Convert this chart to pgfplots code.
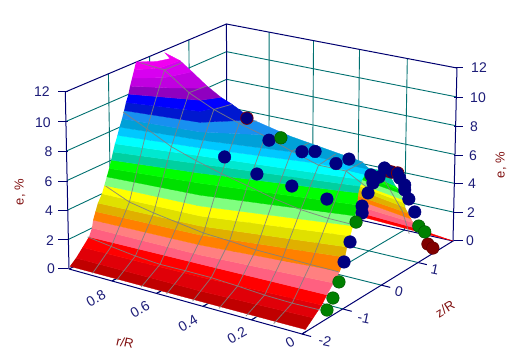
\documentclass[border=0pt]{standalone}
\usepackage{fontspec}
\setmainfont{Liberation Sans}
\usepackage{pgfplots}
\usepackage{pgfplotstable}
\pgfplotsset{compat=1.18}

% colour bands, one per 0.5 of e
\definecolor{b0}{HTML}{C00000}\definecolor{b1}{HTML}{E00008}\definecolor{b2}{HTML}{FF0000}
\definecolor{b3}{HTML}{FF6080}\definecolor{b4}{HTML}{FF8080}\definecolor{b5}{HTML}{FF8000}
\definecolor{b6}{HTML}{E0B000}\definecolor{b7}{HTML}{E0E000}\definecolor{b8}{HTML}{FFFF00}
\definecolor{b9}{HTML}{80FF80}\definecolor{b10}{HTML}{00E000}\definecolor{b11}{HTML}{00FF00}
\definecolor{b12}{HTML}{00D0A0}\definecolor{b13}{HTML}{00E8D0}\definecolor{b14}{HTML}{00FFFF}
\definecolor{b15}{HTML}{00C8FF}\definecolor{b16}{HTML}{00A0D8}\definecolor{b17}{HTML}{1890F0}
\definecolor{b18}{HTML}{0018D0}\definecolor{b19}{HTML}{0000FF}\definecolor{b20}{HTML}{9000C0}
\definecolor{b21}{HTML}{C000E0}\definecolor{b22}{HTML}{D800F0}\definecolor{b23}{HTML}{F000F0}
\definecolor{boxc}{HTML}{000070}
\definecolor{gridc}{HTML}{007070}
\definecolor{tickc}{HTML}{1C1C78}
\definecolor{titlec}{HTML}{801010}
\definecolor{mnavy}{HTML}{000080}
\definecolor{mgreen}{HTML}{008000}
\definecolor{mred}{HTML}{800000}

\tikzset{
  tk/.style={text=tickc,font=\fontsize{14}{14}\selectfont,inner sep=0pt},
  ttl/.style={text=titlec,font=\fontsize{13}{13}\selectfont,inner sep=0pt},
}

% measured mesh: e at each z (rows are r)
\pgfplotstableread{
r     e1   e2   e3   e4
1     1.54 4.41 8.94 11.8
.889  1.31 3.70 8.11 11.62
.778  1.10 3.36 7.25 10.38
.667  .98  3.10 6.67 9.57
.556  1.00 2.84 6.18 8.98
.444  1.00 2.74 5.77 8.48
.333  .91  2.59 5.32 7.86
.222  .79  2.56 5.00 7.32
.111  .75  2.53 4.85 7.33
0     .79  2.51 4.82 6.30
}\gridr
% same mesh: e at each r (rows are z)
\pgfplotstableread{
z      a     b     c    d    f    g    h    i
-2     .15   .15   .15  .15  .15  .15  .15  .15
-1.556 1.31  1.10  .98  1.00 1.00 .91  .79  .75
-1.111 3.70  3.36  3.10 2.84 2.74 2.59 2.56 2.53
-.667  8.11  7.25  6.67 6.18 5.77 5.32 5.00 4.85
-.222  11.62 10.38 9.57 8.98 8.48 7.86 7.32 7.33
.222   11.6  10.3  9.38 8.60 8.06 7.85 7.50 7.37
}\gridz

\newcommand{\bnd}[2]{\addplot[fill=#1,draw=#1,line width=.3pt,no marks] table {r z e\\ #2};}
\newcommand{\rl}[2]{\addplot[meshl] table[x expr={px(#1,\thisrow{z},\thisrow{#2})},y expr={py(#1,\thisrow{z},\thisrow{#2})}] {\gridz};}
\newcommand{\zl}[2]{\addplot[meshl] table[x expr={px(\thisrow{r},#1,\thisrow{#2})},y expr={py(\thisrow{r},#1,\thisrow{#2})}] {\gridr};}

\begin{document}
\begin{tikzpicture}
\useasboundingbox (0,0) rectangle (517pt,352pt);
\begin{axis}[
    at={(0,0)}, anchor=south west,
    scale only axis, width=517pt, height=352pt,
    xmin=0, xmax=517, ymin=0, ymax=352, y dir=reverse,
    hide axis, clip=false,
    % perspective camera of the original chart: r, z, e to image position
    declare function={
      TT(\b)=(\b+2)/4;
      WW(\a,\b)=1+0.10833*\a+0.10671*TT(\b);
      Xf(\a,\b)=(302-225.525*\a+199.34*TT(\b))/WW(\a,\b);
      Yf(\a,\b)=(334-35.86*\a-67.28*TT(\b))/WW(\a,\b);
      HH(\a,\b)=195-18*\a-22*TT(\b)+11*\a*TT(\b);
      px(\a,\b,\c)=Xf(\a,\b)+\c/12*(Xf(\a,\b)-255)*0.02;
      py(\a,\b,\c)=Yf(\a,\b)-\c/12*HH(\a,\b);
    },
    table/row sep=\\,
    table/x expr={px(\thisrow{r},\thisrow{z},\thisrow{e})},
    table/y expr={py(\thisrow{r},\thisrow{z},\thisrow{e})},
    gridl/.style={draw=gridc,line width=.9pt,no marks},
    boxl/.style={draw=boxc,line width=1pt,no marks},
    meshl/.style={draw=gray,line width=.8pt,opacity=.85,no marks},
    dots/.style={only marks,mark=*,mark size=6.3pt},
]
% walls and floor
\pgfplotsinvokeforeach{2,4,6,8,10}{
  \addplot[gridl] table {r z e\\ 1 -2 #1\\ 1 2 #1\\ 0 2 #1\\};
}
\pgfplotsinvokeforeach{-1,0,1}{
  \addplot[gridl] table {r z e\\ 1 #1 12\\ 1 #1 0\\ 0 #1 0\\};
}
\pgfplotsinvokeforeach{.2,.4,.6,.8}{
  \addplot[gridl] table {r z e\\ #1 2 12\\ #1 2 0\\ #1 -2 0\\};
}
\addplot[boxl] table {r z e\\ 1 -2 0\\ 0 -2 0\\ 0 2 0\\ 1 2 0\\ 1 -2 0\\};
\addplot[boxl] table {r z e\\ 1 -2 0\\ 1 -2 12\\ 1 2 12\\ 0 2 12\\ 0 2 0\\};
\addplot[boxl] table {r z e\\ 1 2 0\\ 1 2 12\\};
\pgfplotsinvokeforeach{.8,.6,.4,.2,0}{
  \addplot[boxl] table {r z e\\ #1 -2 0\\ #1 -1.9 0\\};
}
\pgfplotsinvokeforeach{-2,-1,0,1}{
  \addplot[boxl] table {r z e\\ 0 #1 0\\ -.035 #1 0\\};
}
\pgfplotsinvokeforeach{92,122,152,182,211,240,269}{
  \draw[draw=boxc,line width=1pt] (axis cs:58,#1)--(axis cs:68,#1);
}
\pgfplotsinvokeforeach{68,98,127,156,184,213,241}{
  \draw[draw=boxc,line width=1pt] (axis cs:454,#1)--(axis cs:463,#1);
}

% far slope, seen from below through the open end
\bnd{b2}{.34 1.50 1.5\\ .07 1.39 1.5\\ 0 2 0\\ .38 2 .25\\}
\bnd{b3}{.34 1.50 1.5\\ .07 1.39 1.5\\ .065 1.30 2\\ .32 1.46 2\\}
\bnd{b4}{.32 1.46 2\\ .065 1.30 2\\ .054 1.16 2.5\\ .32 1.42 2.5\\}
\bnd{b5}{.32 1.42 2.5\\ .054 1.16 2.5\\ .055 1.08 3\\ .32 1.32 3\\}
\bnd{b6}{.32 1.32 3\\ .055 1.08 3\\ .057 1.0 3.5\\ .30 1.28 3.5\\}
\bnd{b7}{.30 1.28 3.5\\ .057 1.0 3.5\\ .0435 .884 4\\ .30 1.18 4\\}
\bnd{b8}{.30 1.18 4\\ .0435 .884 4\\ .0246 .724 4.5\\ .28 1.0 4.5\\}
\bnd{b9}{.28 1.0 4.5\\ .0246 .724 4.5\\ .029 .668 5\\ .26 .9 5\\}
\bnd{b10}{.26 .9 5\\ .029 .668 5\\ .011 .514 5.5\\ .25 .80 5.5\\}
\bnd{b11}{.25 .80 5.5\\ .011 .514 5.5\\ 0 .342 6\\ .22 .70 6\\}
\bnd{b12}{.22 .70 6\\ 0 .342 6\\ .017 .25 7\\ .15 .45 6.6\\}
\addplot[meshl] table {r z e\\ .08 .55 6\\ .08 1.1 3\\ .08 1.3 1.2\\};

% near slope, band by band
\bnd{b0}{1 -1.98 .15\\ 0 -1.92 .15\\ .005 -1.70 .5\\ .447 -1.807 .5\\ 1 -1.834 .5\\}
\bnd{b1}{1 -1.834 .5\\ .447 -1.807 .5\\ .005 -1.70 .5\\ .004 -1.5 1\\ .48 -1.625 1\\ 1 -1.679 1\\}
\bnd{b2}{1 -1.679 1\\ .48 -1.625 1\\ .004 -1.5 1\\ 0 -1.40 1.5\\ .508 -1.468 1.5\\ 1 -1.524 1.5\\}
\bnd{b3}{1 -1.524 1.5\\ .508 -1.468 1.5\\ 0 -1.40 1.5\\ 0 -1.24 2\\ .515 -1.424 2\\ 1 -1.45 2\\}
\bnd{b4}{1 -1.45 2\\ .515 -1.424 2\\ 0 -1.24 2\\ 0 -1.086 2.5\\ .528 -1.353 2.5\\ 1 -1.42 2.5\\}
\bnd{b5}{1 -1.42 2.5\\ .528 -1.353 2.5\\ 0 -1.086 2.5\\ .016 -.852 3\\ .541 -1.278 3\\ 1 -1.36 3\\}
\bnd{b6}{1 -1.36 3\\ .541 -1.278 3\\ .016 -.852 3\\ .022 -.765 3.5\\ .549 -1.233 3.5\\ 1 -1.30 3.5\\}
\bnd{b7}{1 -1.30 3.5\\ .549 -1.233 3.5\\ .022 -.765 3.5\\ .029 -.64 4\\ .563 -1.155 4\\ 1 -1.20 4\\}
\bnd{b8}{1 -1.20 4\\ .563 -1.155 4\\ .029 -.64 4\\ .033 -.546 4.5\\ .577 -1.076 4.5\\ 1 -1.14 4.5\\}
\bnd{b9}{1 -1.14 4.5\\ .577 -1.076 4.5\\ .033 -.546 4.5\\ .038 -.458 5\\ .597 -.966 5\\ 1 -1.08 5\\}
\bnd{b10}{1 -1.08 5\\ .597 -.966 5\\ .038 -.458 5\\ .049 -.335 5.5\\ .624 -.815 5.5\\ 1 -1.02 5.5\\}
\bnd{b11}{1 -1.02 5.5\\ .624 -.815 5.5\\ .049 -.335 5.5\\ .069 -.183 6\\ .64 -.725 6\\ 1 -.968 6\\}
\bnd{b12}{1 -.968 6\\ .64 -.725 6\\ .069 -.183 6\\ .059 -.202 6.5\\ .65 -.665 6.5\\ 1 -.922 6.5\\}
\bnd{b13}{1 -.922 6.5\\ .65 -.665 6.5\\ .059 -.202 6.5\\ .047 -.23 7\\ .655 -.64 7\\ 1 -.871 7\\}
\bnd{b14}{1 -.871 7\\ .655 -.64 7\\ .047 -.23 7\\ .026 -.293 7.5\\ .211 -.258 7.5\\ .658 -.62 7.5\\ 1 -.808 7.5\\}
\bnd{b15}{1 -.808 7.5\\ .658 -.62 7.5\\ .211 -.258 7.5\\ .026 -.293 7.5\\ 0 -.35 8\\ .064 -.354 8\\ .275 -.291 8\\ .661 -.601 8\\ 1 -.756 8\\}
\bnd{b16}{1 -.756 8\\ .661 -.601 8\\ .275 -.291 8\\ .064 -.354 8\\ 0 -.35 8\\ .045 -.247 8.2\\ .372 -.034 8.5\\ .665 -.578 8.5\\ 1 -.692 8.5\\}
\bnd{b17}{1 -.692 8.5\\ .665 -.578 8.5\\ .372 -.034 8.5\\ .535 .005 9\\ .679 -.499 9\\ 1 -.64 9\\}
\bnd{b18}{1 -.64 9\\ .679 -.499 9\\ .535 .005 9\\ .654 .161 9.5\\ .7035 -.361 9.5\\ 1 -.592 9.5\\}
\bnd{b19}{1 -.592 9.5\\ .7035 -.361 9.5\\ .654 .161 9.5\\ .685 .059 10\\ .7295 -.216 10\\ 1 -.528 10\\}
\bnd{b20}{1 -.528 10\\ .7295 -.216 10\\ .685 .059 10\\ .757 .111 10.5\\ .763 -.028 10.5\\ .859 -.25 10.5\\ 1 -.488 10.5\\}
\bnd{b21}{1 -.488 10.5\\ .859 -.25 10.5\\ .763 -.028 10.5\\ .757 .111 10.5\\ .854 .275 11\\ .897 -.168 11\\ 1 -.436 11\\}
\bnd{b22}{1 -.436 11\\ .897 -.168 11\\ .854 .275 11\\ .9225 .346 11.5\\ .932 -.103 11.5\\ 1 -.384 11.5\\}
\bnd{b23}{1 -.384 11.5\\ .932 -.103 11.5\\ .9225 .346 11.5\\ .975 .254 12\\ .915 .057 12\\ .936 -.159 12\\ 1 -.333 12\\}

% mesh over the surface
\rl{.889}{a}\rl{.778}{b}\rl{.667}{c}\rl{.556}{d}\rl{.444}{f}\rl{.333}{g}\rl{.222}{h}\rl{.111}{i}
\zl{-1.556}{e1}\zl{-1.111}{e2}\zl{-.667}{e3}\zl{-.222}{e4}

% measured points
\addplot[dots,mark options={fill=mred,draw=mred!70!black}] table {r z e\\ 0 1.271 .85\\ 0 1.415 .37\\};
\addplot[dots,mark options={fill=mnavy,draw=mred,line width=.7pt}] table {r z e\\
 .565 .025 9\\ 0 .13 7.28\\ 0 .235 7.07\\ 0 .396 6.8\\};
\addplot[dots,mark options={fill=mnavy,draw=mnavy}] table {r z e\\
 .555 -.594 7.2\\ .429 -.52 6.4\\ .302 -.404 5.9\\ .156 -.42 5.6\\
 .4255 -.239 8.3\\ .2875 -.24 8\\ .234 -.239 8.2\\ .141 -.292 7.8\\ .096 -.251 8.2\\
 0 -.977 2.94\\ 0 -.83 4\\ 0 -.53 5.43\\ 0 -.532 5.88\\ 0 -.382 6.52\\ 0 -.257 7\\
 0 -.312 7.59\\ 0 -.1 7.18\\ 0 .04 7.59\\ 0 .454 6.39\\ 0 .592 5.75\\ 0 .595 5.42\\
 0 .711 4.66\\ 0 .882 3.56\\};
\addplot[dots,mark options={fill=mgreen,draw=mgreen!60!black}] table {r z e\\
 .396 -.113 8.4\\ 0 -1.394 .54\\ 0 -1.248 1.07\\ 0 -1.1 1.86\\ 0 -.682 5.06\\ 0 1.002 2.45\\ 0 1.174 1.81\\};

% tick labels and titles
\node[tk] at (axis cs:42,92) {12};
\node[tk] at (axis cs:43,122.5) {10};
\node[tk] at (axis cs:48.5,152) {8};
\node[tk] at (axis cs:48.5,182) {6};
\node[tk] at (axis cs:49,211) {4};
\node[tk] at (axis cs:50,241) {2};
\node[tk] at (axis cs:51,269) {0};
\node[tk] at (axis cs:479,68) {12};
\node[tk] at (axis cs:478,98) {10};
\node[tk] at (axis cs:474,127) {8};
\node[tk] at (axis cs:473,156) {6};
\node[tk] at (axis cs:472,184) {4};
\node[tk] at (axis cs:471,213) {2};
\node[tk] at (axis cs:470,241) {0};
\node[tk,rotate=30] at (axis cs:96,298) {0.8};
\node[tk,rotate=30] at (axis cs:140,309) {0.6};
\node[tk,rotate=30] at (axis cs:188,323) {0.4};
\node[tk,rotate=30] at (axis cs:237,335) {0.2};
\node[tk,rotate=30] at (axis cs:290,342) {0};
\node[tk,rotate=-12] at (axis cs:325,341) {-2};
\node[tk,rotate=-12] at (axis cs:364,318) {-1};
\node[tk,rotate=-12] at (axis cs:399,292) {0};
\node[tk,rotate=-12] at (axis cs:435,270) {1};
\node[ttl,rotate=90] at (axis cs:20,192) {e, \%};
\node[ttl,rotate=90] at (axis cs:501,165) {e, \%};
\node[ttl,rotate=-12] at (axis cs:125,342.5) {r/R};
\node[ttl,rotate=32] at (axis cs:445,309) {z/R};
\end{axis}
\end{tikzpicture}
\end{document}
